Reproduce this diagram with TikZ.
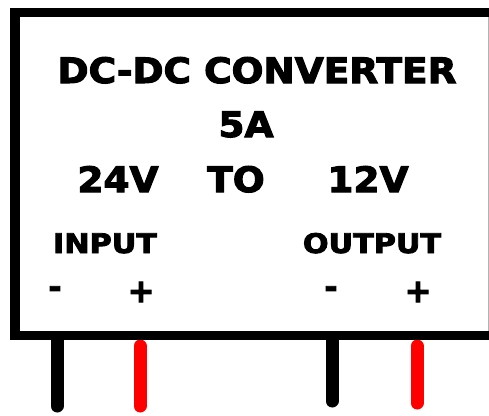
\documentclass[tikz,border=0pt]{standalone}
\usepackage{fontspec}
\setmainfont{DejaVu Sans}[BoldFeatures={FakeBold=3}]
\begin{document}
\begin{tikzpicture}[x=1pt,y=-1pt,
  bigtxt/.style={font=\bfseries\fontsize{35}{35}\selectfont, inner sep=0pt, anchor=base, xscale=1.07, transform shape},
  midtxt/.style={font=\bfseries\fontsize{27}{27}\selectfont, inner sep=0pt, anchor=base, xscale=1.12, transform shape},
  signtxt/.style={font=\bfseries\fontsize{32}{32}\selectfont, inner sep=0pt, anchor=center},
  frame/.style={line width=9.5pt, black},
  blackpin/.style={line width=13pt, black, line cap=round},
  redpin/.style={line width=13pt, red, line cap=round}]
\useasboundingbox (0,0) rectangle (489,415);
\fill[white] (0,0) rectangle (489,415);
% pins (drawn first, box frame covers their tops)
\coordinate (p1t) at (57,339); \coordinate (p1b) at (57,406);
\coordinate (p2t) at (140,346); \coordinate (p2b) at (140,406);
\coordinate (p3t) at (332,339); \coordinate (p3b) at (332,401);
\coordinate (p4t) at (417,346); \coordinate (p4b) at (417,403);
\draw[blackpin] (p1t) -- (p1b);
\draw[redpin] (p2t) -- (p2b);
\draw[blackpin] (p3t) -- (p3b);
\draw[redpin] (p4t) -- (p4b);
\fill[black] (50.5,338) rectangle (63.5,345);
\fill[black] (325.5,338) rectangle (338.5,345);
% box frame
\draw[frame] (490,12.5) -- (15,12.5) -- (15,335.5) -- (490,335.5);
\draw[gray!60, line width=1pt] (488,17) -- (488,331);
% texts
\node[bigtxt] (title) at (257,83) {DC-DC CONVERTER};
\node[bigtxt] (amp) at (246,137) {5A};
\node[bigtxt] (vin) at (118,192) {24V};
\node[bigtxt] (to) at (236,192) {TO};
\node[bigtxt] (vout) at (368,192) {12V};
\node[midtxt] (inp) at (105,253) {INPUT};
\node[midtxt] (outp) at (372,253) {OUTPUT};
\node[signtxt] (inm) at (55,292) {-};
\node[signtxt] (inpl) at (141,292) {+};
\node[signtxt] (outm) at (331,292) {-};
\node[signtxt] (outpl) at (418,292) {+};
\end{tikzpicture}
\end{document}
